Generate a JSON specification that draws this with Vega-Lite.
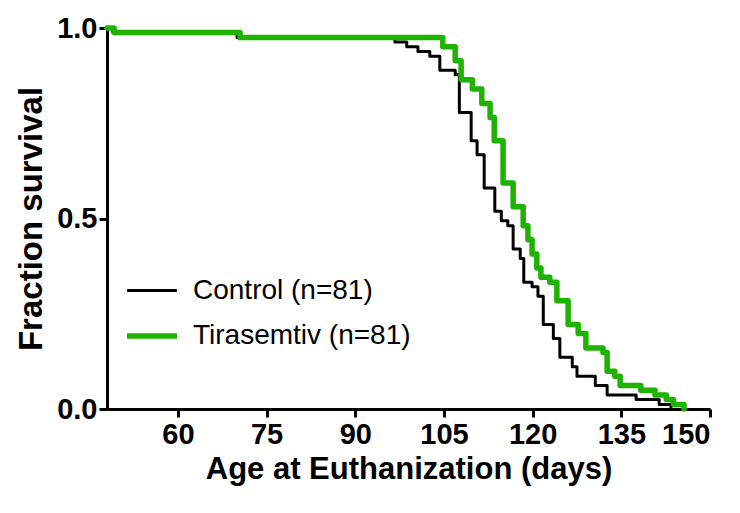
{
  "$schema": "https://vega.github.io/schema/vega-lite/v6.json",
  "width": 603,
  "height": 381,
  "autosize": "none",
  "padding": {"left": 107, "top": 28, "right": 30, "bottom": 104},
  "background": "white",
  "config": {
    "view": {"stroke": null},
    "font": "Liberation Sans",
    "axis": {
      "grid": false,
      "domainColor": "black",
      "domainWidth": 3,
      "tickColor": "black",
      "tickWidth": 3,
      "tickSize": 8,
      "labelFont": "Liberation Sans",
      "labelFontWeight": "bold",
      "labelFontSize": 29,
      "labelColor": "black",
      "titleFont": "Liberation Sans",
      "titleFontWeight": "bold",
      "titleColor": "black"
    },
    "legend": {
      "orient": "none",
      "legendX": 17,
      "legendY": 236,
      "labelFont": "Liberation Sans",
      "labelFontSize": 28,
      "labelColor": "black",
      "labelLimit": 400,
      "symbolType": "stroke",
      "symbolSize": 2500,
      "rowPadding": 3,
      "labelOffset": 13
    }
  },
  "data": {
    "values": [
      {"group": "Control (n=81)", "day": 48, "surv": 1.0},
      {"group": "Control (n=81)", "day": 49.0, "surv": 0.988},
      {"group": "Control (n=81)", "day": 70.0, "surv": 0.975},
      {"group": "Control (n=81)", "day": 96.7, "surv": 0.963},
      {"group": "Control (n=81)", "day": 98.7, "surv": 0.951},
      {"group": "Control (n=81)", "day": 100.6, "surv": 0.938},
      {"group": "Control (n=81)", "day": 102.6, "surv": 0.926},
      {"group": "Control (n=81)", "day": 104.3, "surv": 0.889},
      {"group": "Control (n=81)", "day": 106.9, "surv": 0.877},
      {"group": "Control (n=81)", "day": 107.6, "surv": 0.778},
      {"group": "Control (n=81)", "day": 109.6, "surv": 0.704},
      {"group": "Control (n=81)", "day": 110.6, "surv": 0.667},
      {"group": "Control (n=81)", "day": 111.8, "surv": 0.580},
      {"group": "Control (n=81)", "day": 113.6, "surv": 0.519},
      {"group": "Control (n=81)", "day": 114.7, "surv": 0.494},
      {"group": "Control (n=81)", "day": 115.8, "surv": 0.481},
      {"group": "Control (n=81)", "day": 116.7, "surv": 0.420},
      {"group": "Control (n=81)", "day": 117.9, "surv": 0.395},
      {"group": "Control (n=81)", "day": 118.5, "surv": 0.333},
      {"group": "Control (n=81)", "day": 119.9, "surv": 0.321},
      {"group": "Control (n=81)", "day": 120.9, "surv": 0.296},
      {"group": "Control (n=81)", "day": 121.8, "surv": 0.222},
      {"group": "Control (n=81)", "day": 123.5, "surv": 0.185},
      {"group": "Control (n=81)", "day": 124.6, "surv": 0.136},
      {"group": "Control (n=81)", "day": 126.7, "surv": 0.111},
      {"group": "Control (n=81)", "day": 127.5, "surv": 0.086},
      {"group": "Control (n=81)", "day": 130.6, "surv": 0.062},
      {"group": "Control (n=81)", "day": 132.6, "surv": 0.037},
      {"group": "Control (n=81)", "day": 137.5, "surv": 0.025},
      {"group": "Control (n=81)", "day": 141.4, "surv": 0.012},
      {"group": "Control (n=81)", "day": 143.4, "surv": 0.0},
      {"group": "Tirasemtiv (n=81)", "day": 48, "surv": 1.0},
      {"group": "Tirasemtiv (n=81)", "day": 49.2, "surv": 0.988},
      {"group": "Tirasemtiv (n=81)", "day": 70.5, "surv": 0.975},
      {"group": "Tirasemtiv (n=81)", "day": 104.8, "surv": 0.951},
      {"group": "Tirasemtiv (n=81)", "day": 106.9, "surv": 0.914},
      {"group": "Tirasemtiv (n=81)", "day": 107.9, "surv": 0.864},
      {"group": "Tirasemtiv (n=81)", "day": 109.8, "surv": 0.840},
      {"group": "Tirasemtiv (n=81)", "day": 111.4, "surv": 0.802},
      {"group": "Tirasemtiv (n=81)", "day": 112.8, "surv": 0.765},
      {"group": "Tirasemtiv (n=81)", "day": 113.5, "surv": 0.704},
      {"group": "Tirasemtiv (n=81)", "day": 115.0, "surv": 0.593},
      {"group": "Tirasemtiv (n=81)", "day": 116.7, "surv": 0.531},
      {"group": "Tirasemtiv (n=81)", "day": 118.4, "surv": 0.481},
      {"group": "Tirasemtiv (n=81)", "day": 119.2, "surv": 0.444},
      {"group": "Tirasemtiv (n=81)", "day": 119.9, "surv": 0.407},
      {"group": "Tirasemtiv (n=81)", "day": 120.7, "surv": 0.370},
      {"group": "Tirasemtiv (n=81)", "day": 121.4, "surv": 0.346},
      {"group": "Tirasemtiv (n=81)", "day": 122.9, "surv": 0.333},
      {"group": "Tirasemtiv (n=81)", "day": 124.1, "surv": 0.284},
      {"group": "Tirasemtiv (n=81)", "day": 126.0, "surv": 0.222},
      {"group": "Tirasemtiv (n=81)", "day": 127.7, "surv": 0.198},
      {"group": "Tirasemtiv (n=81)", "day": 129.0, "surv": 0.160},
      {"group": "Tirasemtiv (n=81)", "day": 131.9, "surv": 0.148},
      {"group": "Tirasemtiv (n=81)", "day": 132.6, "surv": 0.099},
      {"group": "Tirasemtiv (n=81)", "day": 133.9, "surv": 0.086},
      {"group": "Tirasemtiv (n=81)", "day": 134.8, "surv": 0.062},
      {"group": "Tirasemtiv (n=81)", "day": 138.3, "surv": 0.049},
      {"group": "Tirasemtiv (n=81)", "day": 140.7, "surv": 0.037},
      {"group": "Tirasemtiv (n=81)", "day": 142.6, "surv": 0.025},
      {"group": "Tirasemtiv (n=81)", "day": 143.8, "surv": 0.012},
      {"group": "Tirasemtiv (n=81)", "day": 145.6, "surv": 0.0}
    ]
  },
  "encoding": {
    "x": {
      "field": "day",
      "type": "quantitative",
      "scale": {"domain": [48, 150], "nice": false, "zero": false},
      "axis": {"values": [60, 75, 90, 105, 120, 135, 150], "title": "Age at Euthanization (days)", "titleFontSize": 31, "labelPadding": 3, "titlePadding": 5}
    },
    "y": {
      "field": "surv",
      "type": "quantitative",
      "scale": {"domain": [0, 1], "nice": false},
      "axis": {"values": [0, 0.5, 1], "format": ".1f", "title": "Fraction survival", "titleFontSize": 33, "labelPadding": 2, "titlePadding": 8}
    },
    "color": {
      "field": "group",
      "type": "nominal",
      "scale": {"domain": ["Control (n=81)", "Tirasemtiv (n=81)"], "range": ["#000000", "#1db300"]},
      "legend": {"title": null}
    },
    "strokeWidth": {
      "field": "group",
      "type": "nominal",
      "scale": {"domain": ["Control (n=81)", "Tirasemtiv (n=81)"], "range": [3, 5.5]},
      "legend": {"title": null}
    }
  },
  "layer": [
    {
      "transform": [{"filter": "datum.group === 'Control (n=81)'"}],
      "mark": {"type": "line", "interpolate": "step-after", "strokeJoin": "round", "strokeCap": "round"}
    },
    {
      "transform": [{"filter": "datum.group === 'Tirasemtiv (n=81)'"}],
      "mark": {"type": "line", "interpolate": "step-after", "strokeJoin": "round", "strokeCap": "round"}
    }
  ]
}
